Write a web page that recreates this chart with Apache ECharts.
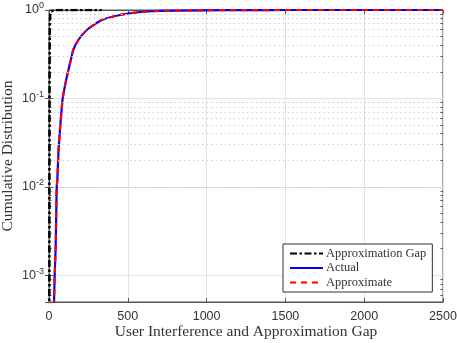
<!DOCTYPE html>
<html><head><meta charset="utf-8">
<script src="https://cdn.jsdelivr.net/npm/echarts@6/dist/echarts.min.js"></script>
<style>html,body{margin:0;padding:0;background:#fff}#c{width:457px;height:343px}</style>
</head><body><div id="c"></div>
<script>
const seriesNames = ['Approximation Gap', 'Actual', 'Approximate'];
const xTicks = [0, 500, 1000, 1500, 2000, 2500];
const yTicks = [0.001, 0.01, 0.1, 1];
// [x, cumulative probability]
const gapData = [[2, 0.0004], [2.5, 0.01], [3.5, 0.2], [5, 0.7], [8, 0.9], [14, 0.97], [25, 0.99], [45, 1], [335, 1]];
const actualData = [[31, 0.00045], [32, 0.0005], [36, 0.001], [42, 0.002], [46, 0.005], [49, 0.01], [53, 0.012], [60, 0.025], [72, 0.05], [87, 0.1], [105, 0.15], [123, 0.21], [138, 0.27], [154, 0.354], [186, 0.458], [240, 0.594], [335, 0.771], [451, 0.879], [579, 0.949], [700, 0.975], [960, 0.992], [1250, 0.998], [1530, 1], [2500, 1]];
const approxData = actualData.map(p => [p[0], p[1]]);
const minorYs = [];
[0.0001, 0.001, 0.01, 0.1].forEach(d => { for (let k = 2; k <= 9; k++) { const v = d * k; if (v > 0.0005 && v < 1) minorYs.push(+v.toPrecision(3)); } });

const serif = 'Liberation Serif';
const sans = 'Liberation Sans';
const minorLines = minorYs.map(v => ({ yAxis: v }));
const tickSegs = [];
minorYs.forEach(v => {
  tickSegs.push([{ coord: [0, v] }, { coord: [16, v] }]);
  tickSegs.push([{ coord: [2484, v] }, { coord: [2500, v] }]);
});
const chart = echarts.init(document.getElementById('c'), null, { renderer: 'canvas' });
chart.setOption({
  animation: false,
  backgroundColor: '#fff',
  grid: { left: 49, right: 14, top: 10, bottom: 41, show: true, borderColor: '#555', borderWidth: 1, containLabel: false, outerBoundsMode: 'none' },
  legend: {
    orient: 'vertical', left: 283, top: 244, data: seriesNames,
    backgroundColor: '#fff', borderColor: '#333', borderWidth: 1, borderRadius: 0,
    padding: [3, 6, 3, 6], itemWidth: 33, itemHeight: 10, itemGap: 1.5,
    itemStyle: { opacity: 0 },
    textStyle: { fontFamily: serif, fontSize: 12.5, lineHeight: 11, color: '#333', padding: [0, 0, 0, -2] }
  },
  xAxis: [{
    type: 'value', min: 0, max: 2500, interval: 500,
    name: 'User Interference and Approximation Gap', nameLocation: 'middle', nameGap: 22, nameMoveOverlap: false,
    nameTextStyle: { fontFamily: serif, fontSize: 15.5, color: '#333' },
    axisLine: { show: true, lineStyle: { color: '#555' } },
    axisTick: { show: true, inside: true, length: 4, lineStyle: { color: '#555' } },
    axisLabel: { fontFamily: sans, fontSize: 12.5, color: '#333', margin: 8, formatter: v => String(v) },
    splitLine: { show: true, lineStyle: { color: '#e3e3e3', width: 1 } }
  }, {
    type: 'value', min: 0, max: 2500, interval: 500, position: 'top',
    axisLine: { show: true, lineStyle: { color: '#555' } },
    axisTick: { show: true, inside: true, length: 4, lineStyle: { color: '#555' } },
    axisLabel: { show: false }, splitLine: { show: false }
  }],
  yAxis: [{
    type: 'log', logBase: 10, min: 0.0005, max: 1,
    name: 'Cumulative Distribution', nameLocation: 'middle', nameGap: 33, nameMoveOverlap: false,
    nameTextStyle: { fontFamily: serif, fontSize: 15.5, color: '#333' },
    axisLine: { show: true, lineStyle: { color: '#555' } },
    axisTick: { show: true, inside: true, length: 4, lineStyle: { color: '#555' } },
    axisLabel: {
      showMinLabel: false, margin: 5,
      fontFamily: sans, fontSize: 12.5, color: '#333',
      formatter: v => '10{sup|' + Math.round(Math.log10(v)) + '}',
      rich: { sup: { fontFamily: sans, fontSize: 9, color: '#333', verticalAlign: 'top', padding: [0, 0, 8, 0] } }
    },
    splitLine: { show: true, lineStyle: { color: '#e3e3e3', width: 1 } }
  }, {
    type: 'log', logBase: 10, min: 0.0005, max: 1, position: 'right',
    axisLine: { show: true, lineStyle: { color: '#555' } },
    axisTick: { show: true, inside: true, length: 4, lineStyle: { color: '#555' } },
    axisLabel: { show: false }, splitLine: { show: false }
  }],
  series: [
    {
      name: seriesNames[0], type: 'line', data: gapData, symbol: 'none', clip: true, z: 5,
      lineStyle: { color: '#000', width: 2.6, type: [7, 2.5, 2.5, 2.5] }, itemStyle: { color: '#000' }
    },
    {
      name: seriesNames[1], type: 'line', data: actualData, symbol: 'none', clip: true, smooth: 0.2, z: 3,
      lineStyle: { color: '#0000ff', width: 2.2, type: 'solid' }, itemStyle: { color: '#0000ff' }
    },
    {
      name: seriesNames[2], type: 'line', data: approxData, symbol: 'none', clip: true, smooth: 0.2, z: 4,
      lineStyle: { color: '#ff0000', width: 2.2, type: [6, 5] }, itemStyle: { color: '#ff0000' }
    },
    {
      name: 'minor', type: 'line', data: [], symbol: 'none', silent: true, z: 1,
      markLine: {
        silent: true, symbol: 'none', label: { show: false }, animation: false,
        lineStyle: { color: '#d0d0d0', type: [1.5, 3], width: 1 },
        data: minorLines
      }
    },
    {
      name: 'minorTicks', type: 'line', data: [], symbol: 'none', silent: true, z: 2,
      markLine: {
        silent: true, symbol: 'none', label: { show: false }, animation: false,
        lineStyle: { color: '#555', type: 'solid', width: 1 },
        data: tickSegs
      }
    }
  ]
});
</script></body></html>
